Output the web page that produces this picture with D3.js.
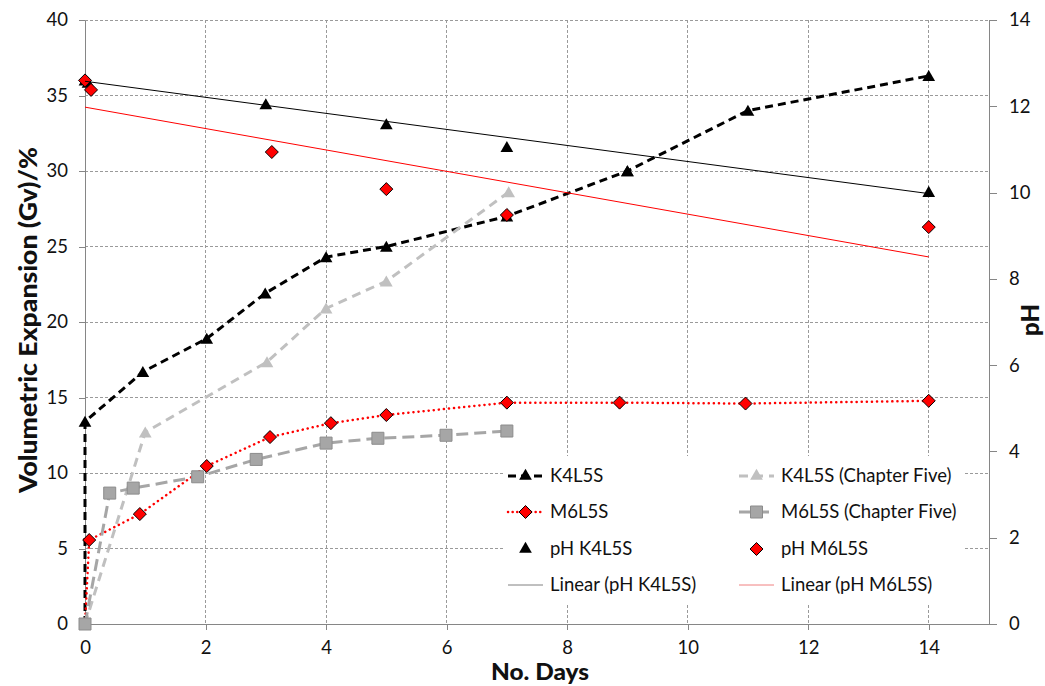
<!DOCTYPE html>
<html>
<head>
<meta charset="utf-8">
<script src="https://cdn.jsdelivr.net/npm/d3@7"></script>
<style>
  body { margin: 0; background: #fff; }
  svg { display: block; font-family: Lato, "Open Sans", sans-serif; }
</style>
</head>
<body>
<svg id="chart" width="1045" height="686"></svg>
<script>
// ---- data ----
const k4Days   = [0, 0, 0.96, 2.02, 2.99, 4.0, 5.0, 7.0, 9.0, 11.0, 14.0];
const k4Gv     = [0, 13.4, 16.7, 18.9, 21.9, 24.3, 25.0, 27.0, 30.0, 34.0, 36.3];
const k4c5Days = [0, 1.0, 3.02, 4.0, 5.0, 7.03];
const k4c5Gv   = [0, 12.7, 17.35, 20.9, 22.7, 28.6];
const m6Days   = [0, 0.07, 0.91, 2.02, 3.07, 4.08, 5.0, 7.0, 8.87, 10.96, 14.0];
const m6Gv     = [0, 5.56, 7.28, 10.46, 12.38, 13.3, 13.84, 14.66, 14.66, 14.6, 14.78];
const m6c5Days = [0, 0.41, 0.80, 1.87, 2.84, 4.0, 4.86, 5.99, 7.0];
const m6c5Gv   = [0, 8.67, 9.0, 9.75, 10.9, 11.98, 12.3, 12.5, 12.78];
const phK4Days = [0, 0.05, 3.0, 5.0, 7.0, 9.0, 14.0];
const phK4     = [12.6, 12.55, 12.05, 11.59, 11.06, 10.5, 10.02];
const phM6Days = [0, 0.1, 3.1, 5.0, 7.0, 14.0];
const phM6     = [12.6, 12.38, 10.94, 10.08, 9.48, 9.2];
// linear trend lines: [intercept, slope per day]
const trendK4  = [12.58, -0.186];
const trendM6  = [11.98, -0.248];
const trendDays = [0, 14];
const xTicks   = [0, 2, 4, 6, 8, 10, 12, 14];
const yTicks   = [0, 5, 10, 15, 20, 25, 30, 35, 40];
const y2Ticks  = [0, 2, 4, 6, 8, 10, 12, 14];
const legendLabels = ["K4L5S", "K4L5S (Chapter Five)", "M6L5S", "M6L5S (Chapter Five)",
                      "pH K4L5S", "pH M6L5S", "Linear (pH K4L5S)", "Linear (pH M6L5S)"];

// ---- layout ----
const L = 85, R = 989, T = 20, B = 624;
const svg = d3.select("#chart");
const x = d3.scaleLinear().domain([0, 15]).range([L, R]);
const y = d3.scaleLinear().domain([0, 40]).range([B, T]);
const y2 = d3.scaleLinear().domain([0, 14]).range([B, T]);
const axisCol = "#868686", gridCol = "#9a9a9a";

// gridlines
const g = svg.append("g");
g.selectAll(".hg").data(yTicks.filter(d => d > 0)).join("line")
  .attr("x1", L).attr("x2", R).attr("y1", d => y(d)).attr("y2", d => y(d))
  .attr("stroke", gridCol).attr("stroke-width", 1).attr("stroke-dasharray", "3,2")
  .attr("shape-rendering", "crispEdges");
g.selectAll(".vg").data(xTicks.filter(d => d > 0)).join("line")
  .attr("x1", d => x(d)).attr("x2", d => x(d)).attr("y1", T).attr("y2", B)
  .attr("stroke", gridCol).attr("stroke-width", 1).attr("stroke-dasharray", "3,2")
  .attr("shape-rendering", "crispEdges");

// axes
const axStyle = sel => {
  sel.select(".domain").attr("stroke", axisCol).attr("shape-rendering", "crispEdges");
  sel.selectAll(".tick line").attr("stroke", axisCol).attr("shape-rendering", "crispEdges");
  sel.selectAll(".tick text").attr("fill", "#111").style("font-size", "18.5px")
    .style("font-family", "Lato, 'Open Sans', sans-serif");
};
svg.append("g").attr("transform", `translate(0,${B})`)
  .call(d3.axisBottom(x).tickValues(xTicks).tickSize(6).tickSizeOuter(0).tickPadding(11))
  .call(axStyle);
svg.append("g").attr("transform", `translate(${L},0)`)
  .call(d3.axisLeft(y).tickValues(yTicks).tickSize(6).tickSizeOuter(0).tickPadding(11))
  .call(axStyle);
svg.append("g").attr("transform", `translate(${R},0)`)
  .call(d3.axisRight(y2).tickValues(y2Ticks).tickSize(8).tickSizeOuter(0).tickPadding(12))
  .call(axStyle);

// titles
svg.append("text").attr("x", 540).attr("y", 680).attr("text-anchor", "middle")
  .attr("textLength", 98).attr("lengthAdjust", "spacingAndGlyphs")
  .style("font-size", "22px").style("font-weight", "900").attr("fill", "#111").text("No. Days");
svg.append("text").attr("transform", "translate(37,320) rotate(-90)").attr("text-anchor", "middle")
  .attr("textLength", 346).attr("lengthAdjust", "spacingAndGlyphs")
  .style("font-size", "24px").style("font-weight", "900").attr("fill", "#111")
  .text("Volumetric Expansion (Gv)/%");
svg.append("text").attr("transform", "translate(1039,320) rotate(-90)").attr("text-anchor", "middle")
  .style("font-size", "24px").style("font-weight", "900").attr("fill", "#111").text("pH");

// ---- series ----
const zip = (a, b) => a.map((d, i) => [d, b[i]]);
const line = (ys) => d3.line().x(d => x(d[0])).y(d => ys(d[1]));
const tri = d3.symbol().type(d3.symbolTriangle).size(70);
const dia = (s) => `M0,${-s}L${s},0L0,${s}L${-s},0Z`;
const sq = (s) => `M${-s},${-s}H${s}V${s}H${-s}Z`;

const styles = {
  k4:   {stroke: "#000", width: 3, dash: "8,5"},
  k4c5: {stroke: "#c0c0c0", width: 3, dash: "9,6"},
  m6:   {stroke: "#ff0000", width: 2.5, dash: "0.1,5", cap: "round"},
  m6c5: {stroke: "#a6a6a6", width: 3, dash: "12,6"},
};
function drawLine(data, st, ys = y) {
  svg.append("path").datum(data).attr("d", line(ys)).attr("fill", "none")
    .attr("stroke", st.stroke).attr("stroke-width", st.width)
    .attr("stroke-dasharray", st.dash).attr("stroke-linecap", st.cap || "butt");
}
function drawMarkers(data, kind, ys = y) {
  const sel = svg.append("g").selectAll("path").data(data).join("path")
    .attr("transform", d => `translate(${x(d[0])},${ys(d[1]) + (kind.startsWith("tri") ? 1.5 : 0)})`);
  if (kind === "triBlack") sel.attr("d", tri).attr("fill", "#000");
  if (kind === "triGray") sel.attr("d", tri).attr("fill", "#c0c0c0");
  if (kind === "dia") sel.attr("d", dia(6.5)).attr("fill", "#ff0000").attr("stroke", "#000").attr("stroke-width", 1);
  if (kind === "sq") sel.attr("d", sq(6)).attr("fill", "#a6a6a6").attr("stroke", "#8c8c8c").attr("stroke-width", 1);
}

const k4 = zip(k4Days, k4Gv), k4c5 = zip(k4c5Days, k4c5Gv);
const m6 = zip(m6Days, m6Gv), m6c5 = zip(m6c5Days, m6c5Gv);
drawLine(k4, styles.k4); drawMarkers(k4.slice(1), "triBlack");
drawLine(k4c5, styles.k4c5); drawMarkers(k4c5.slice(1), "triGray");
drawLine(m6, styles.m6); drawMarkers(m6.slice(1), "dia");
drawLine(m6c5, styles.m6c5); drawMarkers(m6c5, "sq");

const pk = zip(phK4Days, phK4), pm = zip(phM6Days, phM6);
drawMarkers(pk, "triBlack", y2);
drawMarkers(pm, "dia", y2);

// linear trends
const trendPts = (c) => trendDays.map(t => [t, c[0] + c[1] * t]);
svg.append("path").datum(trendPts(trendK4)).attr("d", line(y2)).attr("stroke", "#000").attr("stroke-width", 1).attr("fill", "none");
svg.append("path").datum(trendPts(trendM6)).attr("d", line(y2)).attr("stroke", "#ff0000").attr("stroke-width", 1).attr("fill", "none");

// ---- legend ----
const lg = svg.append("g");
lg.append("rect").attr("x", 503).attr("y", 456).attr("width", 460).attr("height", 147).attr("fill", "#fff");
const colX = [508, 739], rowY = [476, 512, 549, 585];
const legendKinds = [
  {line: styles.k4, mk: "triBlack"}, {line: styles.k4c5, mk: "triGray"},
  {line: {stroke: "#ff0000", width: 2.5, dash: "0.1,4.5", cap: "round"}, mk: "dia"}, {line: styles.m6c5, mk: "sq"},
  {mk: "triBlack"}, {mk: "dia"},
  {line: {stroke: "#808080", width: 1}}, {line: {stroke: "#f08080", width: 1}},
];
legendLabels.forEach((lab, i) => {
  const cx = colX[i % 2], cy = rowY[Math.floor(i / 2)];
  const it = lg.append("g").attr("transform", `translate(${cx},${cy})`);
  const k = legendKinds[i];
  if (k.line) {
    it.append("line").attr("x1", 0).attr("x2", 35).attr("y1", 0).attr("y2", 0)
      .attr("stroke", k.line.stroke).attr("stroke-width", k.line.width)
      .attr("stroke-dasharray", k.line.dash || null).attr("stroke-linecap", k.line.cap || "butt");
  }
  if (k.mk) {
    const m = it.append("path").attr("transform", "translate(17.5,0)");
    if (k.mk === "triBlack") m.attr("d", tri).attr("fill", "#000");
    if (k.mk === "triGray") m.attr("d", tri).attr("fill", "#c0c0c0");
    if (k.mk === "dia") m.attr("d", dia(6.5)).attr("fill", "#ff0000").attr("stroke", "#000");
    if (k.mk === "sq") m.attr("d", sq(6)).attr("fill", "#a6a6a6").attr("stroke", "#8c8c8c");
  }
  it.append("text").attr("x", 42).attr("y", 0).attr("dy", "0.35em")
    .style("font-size", "18.5px").attr("fill", "#111").text(lab);
});
</script>
</body>
</html>
